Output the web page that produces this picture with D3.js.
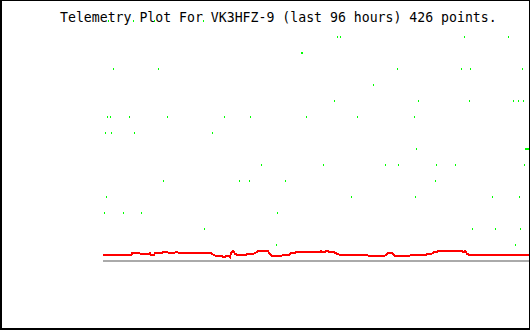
<!DOCTYPE html>
<html>
<head>
<meta charset="utf-8">
<script src="https://cdn.jsdelivr.net/npm/d3@7"></script>
<style>
    body { margin: 0; background: #fff; }
    .title { font-family: "DejaVu Sans Mono", monospace; font-size: 13.2px; fill: #000; }
</style>
</head>
<body>
<div id="chart"></div>
<script>
let title = "Telemetry Plot For VK3HFZ-9 (last 96 hours) 426 points.";
let hoursSpan = [0, 96];
let levelSpan = [0, 15];

// red trace: [hours since start, value]
let redLine = [
    [0, 0.34], [0.23, 0.38], [6.31, 0.38], [6.54, 0.47], [8.34, 0.47], [8.56, 0.41],
    [10.14, 0.41], [10.37, 0.47], [10.59, 0.47], [10.82, 0.38], [11.49, 0.38], [11.72, 0.50],
    [13.30, 0.50], [13.52, 0.58], [14.42, 0.58], [14.65, 0.53], [16.23, 0.53], [16.45, 0.58],
    [16.68, 0.58], [16.90, 0.53], [23.89, 0.53], [24.11, 0.53], [24.56, 0.44], [25.01, 0.38],
    [25.46, 0.31], [26.82, 0.31], [27.04, 0.25], [27.49, 0.25], [27.72, 0.31], [28.39, 0.31],
    [28.62, 0.25], [28.85, 0.53], [29.30, 0.63], [29.75, 0.44], [30.20, 0.39], [32.23, 0.39],
    [32.45, 0.44], [33.80, 0.44], [34.25, 0.50], [34.93, 0.61], [37.18, 0.61], [37.63, 0.41],
    [38.08, 0.31], [40.11, 0.31], [40.56, 0.36], [41.92, 0.36], [42.14, 0.44], [42.59, 0.52],
    [43.27, 0.52], [43.49, 0.54], [48.90, 0.54], [49.13, 0.61], [49.35, 0.54], [50.03, 0.54],
    [50.25, 0.63], [50.70, 0.63], [50.93, 0.54], [52.06, 0.54], [52.51, 0.48], [52.96, 0.42],
    [53.41, 0.39], [59.49, 0.39], [59.94, 0.31], [63.32, 0.31], [63.77, 0.39], [64.23, 0.48],
    [65.13, 0.48], [65.58, 0.36], [66.03, 0.31], [68.96, 0.31], [69.41, 0.39], [71.21, 0.39],
    [71.66, 0.38], [72.79, 0.38], [73.24, 0.46], [74.14, 0.46], [74.59, 0.54], [75.04, 0.54],
    [75.49, 0.61], [80.90, 0.61], [81.13, 0.54], [81.58, 0.61], [82.03, 0.46], [82.48, 0.38],
    [96, 0.38]
];

// green samples: [hours since start, level]
let greenPoints = [
    [1.13, 15], [6.76, 15], [11.49, 15], [22.54, 15],
    [52.73, 14], [53.41, 14], [81.35, 14], [91.27, 14],
    [44.62, 13], [44.84, 13],
    [2.25, 12], [12.39, 12], [66.25, 12], [80.68, 12], [82.70, 12], [94.42, 12],
    [60.85, 11],
    [52.06, 10], [70.99, 10], [82.48, 10], [92.39, 10], [93.52, 10], [94.65, 10],
    [0.90, 9], [1.58, 9], [5.86, 9], [14.42, 9], [27.27, 9], [33.13, 9], [45.75, 9], [57.24, 9], [70.08, 9],
    [0.45, 8], [1.80, 8], [6.99, 8], [24.56, 8],
    [70.54, 7], [95.10, 7], [95.33, 7], [95.55, 7], [95.77, 7],
    [35.61, 6], [49.58, 6], [63.55, 6], [66.48, 6], [75.04, 6], [79.32, 6], [94.87, 6],
    [13.52, 5], [30.65, 5], [32.90, 5], [41.01, 5], [74.82, 5],
    [0.68, 4], [55.89, 4], [70.31, 4], [87.66, 4], [93.75, 4],
    [0.23, 3], [4.51, 3], [8.56, 3], [39.21, 3],
    [22.76, 2], [83.15, 2], [88.34, 2], [93.97, 2],
    [38.99, 1], [92.85, 1]
];

let width = 530;
let height = 330;

let svg = d3.select("#chart")
    .append("svg")
    .attr("width", width)
    .attr("height", height)
    .style("display", "block");

svg.append("rect")
    .attr("width", width)
    .attr("height", height)
    .attr("fill", "#fff");

let x = d3.scaleLinear()
    .domain(hoursSpan)
    .range([103, 529]);

let y = d3.scaleLinear()
    .domain(levelSpan)
    .range([261, 21]);

svg.append("text")
    .attr("class", "title")
    .attr("x", 60)
    .attr("y", 22)
    .text(title);

// baseline
svg.append("line")
    .attr("x1", x(hoursSpan[0]))
    .attr("x2", x(hoursSpan[1]))
    .attr("y1", y(0))
    .attr("y2", y(0))
    .attr("stroke", "#aaaaaa")
    .attr("stroke-width", 2)
    .attr("shape-rendering", "crispEdges");

let line = d3.line()
    .x(d => x(d[0]))
    .y(d => y(d[1]));

svg.append("path")
    .datum(redLine)
    .attr("d", line)
    .attr("fill", "none")
    .attr("stroke", "#ff0000")
    .attr("stroke-width", 2)
    .attr("shape-rendering", "crispEdges");

svg.selectAll(".pt")
    .data(greenPoints)
    .enter()
    .append("rect")
    .attr("class", "pt")
    .attr("x", d => Math.round(x(d[0])))
    .attr("y", d => Math.round(y(d[1])) - 1)
    .attr("width", 1)
    .attr("height", 2)
    .attr("fill", "#00ff00")
    .attr("shape-rendering", "crispEdges");

// frame
svg.append("rect")
    .attr("x", 0.5)
    .attr("y", 0.5)
    .attr("width", width - 1)
    .attr("height", height - 1)
    .attr("fill", "none")
    .attr("stroke", "#000")
    .attr("stroke-width", 1);

svg.append("line")
    .attr("x1", 1.5).attr("x2", 1.5)
    .attr("y1", 0).attr("y2", height)
    .attr("stroke", "#000");

svg.append("line")
    .attr("x1", 0).attr("x2", width)
    .attr("y1", height - 1.5).attr("y2", height - 1.5)
    .attr("stroke", "#000");
</script>
</body>
</html>
